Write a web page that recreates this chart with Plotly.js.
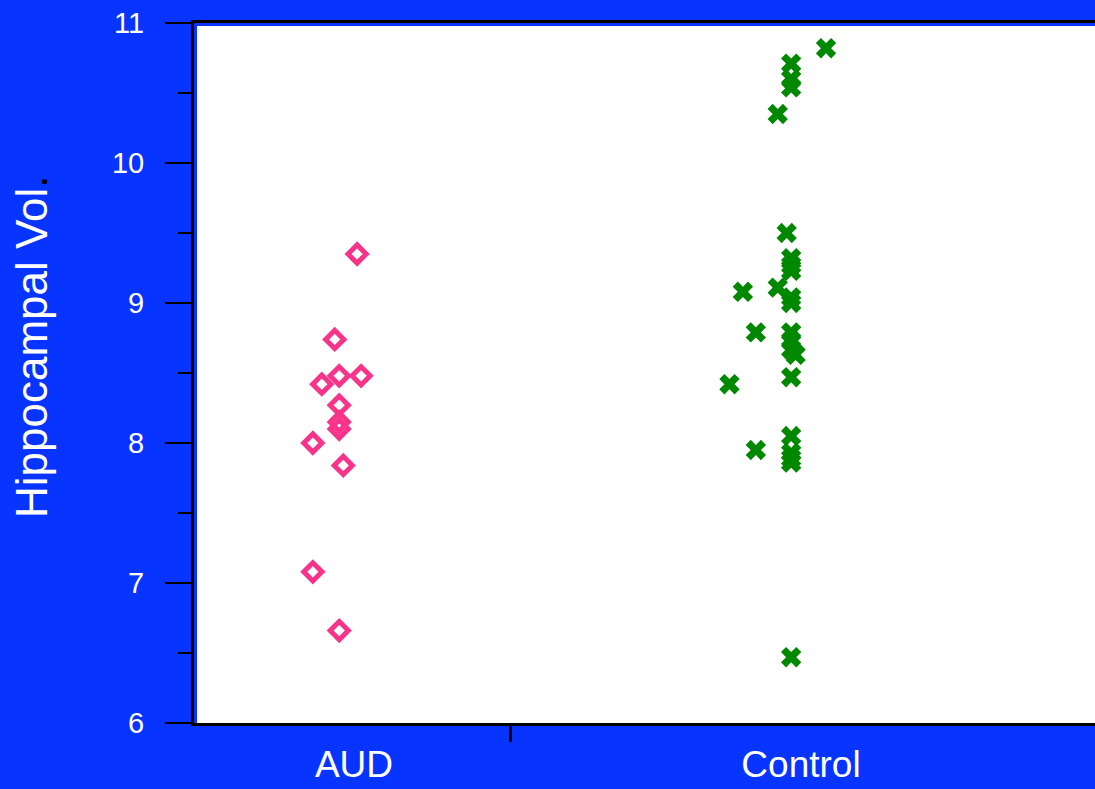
<!DOCTYPE html>
<html>
<head>
<meta charset="utf-8">
<script src="https://cdn.plot.ly/plotly-3.0.1.min.js"></script>
<style>
  html, body { margin: 0; padding: 0; overflow: hidden; background: #0834ff; }
  #chart { width: 1095px; height: 789px; }
</style>
</head>
<body>
<div id="chart"></div>
<script>
// Group labels and their positions on the x axis
const categories = ['AUD', 'Control'];
const categoryPos = [1, 2];

// AUD group: jittered x position and hippocampal volume
const audX   = [1.007, 0.957, 0.967, 1.016, 0.928, 0.967, 0.967, 0.967, 0.908, 0.976, 0.908, 0.967];
const audVol = [9.35, 8.74, 8.48, 8.48, 8.42, 8.27, 8.15, 8.10, 8.00, 7.84, 7.08, 6.66];

// Control group: jittered x position and hippocampal volume
const controlX = [2.056, 1.978, 1.978, 1.978, 1.948, 1.968, 1.978, 1.978, 1.978, 1.870,
                  1.948, 1.978, 1.978, 1.899, 1.978, 1.978, 1.978, 1.988, 1.978, 1.840,
                  1.978, 1.899, 1.978, 1.978, 1.978, 1.978];
const controlVol = [10.82, 10.71, 10.60, 10.54, 10.35, 9.50, 9.32, 9.27, 9.23, 9.08,
                    9.11, 9.04, 9.00, 8.79, 8.79, 8.73, 8.67, 8.63, 8.47, 8.42,
                    8.05, 7.95, 7.93, 7.89, 7.86, 6.47];

// Y axis ticks
const yTicks = [6, 7, 8, 9, 10, 11];

const BLUE = '#0834ff';
const FONT = 'Liberation Sans, Arial, sans-serif';

const traces = [
  {
    x: audX, y: audVol, type: 'scatter', mode: 'markers', name: categories[0],
    marker: { symbol: 'diamond-open', size: 14, color: '#f7348a',
              line: { width: 5, color: '#f7348a' } },
    hoverinfo: 'skip'
  },
  {
    x: controlX, y: controlVol, type: 'scatter', mode: 'markers', name: categories[1],
    marker: { symbol: 'x', size: 18, color: '#008800', line: { width: 0 } },
    hoverinfo: 'skip'
  }
];

const layout = {
  width: 1095, height: 789,
  margin: { l: 194, r: 0, t: 23, b: 66 },
  paper_bgcolor: BLUE,
  plot_bgcolor: BLUE,
  showlegend: false,
  font: { family: FONT, color: 'white' },
  xaxis: {
    range: [0.6421, 2.6577],
    tickmode: 'array', tickvals: categoryPos, ticktext: categories,
    ticks: '', ticklabelstandoff: 7,
    tickfont: { size: 37, color: 'white', family: FONT },
    minor: { tickmode: 'array', tickvals: [1.3512], ticks: 'outside',
             ticklen: 16, tickwidth: 3, tickcolor: 'black', showgrid: false },
    showline: true, linecolor: 'black', linewidth: 3, mirror: true,
    showgrid: false, zeroline: false, fixedrange: true
  },
  yaxis: {
    range: [6, 11],
    tickmode: 'array', tickvals: yTicks,
    ticks: 'outside', ticklen: 26, tickwidth: 2.8, tickcolor: 'black',
    ticklabelstandoff: 15,
    tickfont: { size: 29, color: 'white', family: FONT },
    minor: { dtick: 0.5, ticks: 'outside', ticklen: 13, tickwidth: 2.8,
             tickcolor: 'black', showgrid: false },
    showline: true, linecolor: 'black', linewidth: 3, mirror: false,
    showgrid: false, zeroline: false, fixedrange: true
  },
  shapes: [
    // white panel, inset slightly from the left and top frame lines
    { type: 'rect', xref: 'paper', yref: 'paper', layer: 'below',
      x0: 3 / 901, x1: 1.05, y0: 0, y1: 1 - 3 / 700,
      fillcolor: 'white', line: { width: 0 } }
  ],
  annotations: [
    { xref: 'paper', yref: 'paper', x: -0.181, y: 0.537,
      xanchor: 'center', yanchor: 'middle', textangle: -90, showarrow: false,
      text: 'Hippocampal Vol<span style="color:black">.</span>',
      font: { size: 44, color: 'white', family: FONT } }
  ]
};

Plotly.newPlot('chart', traces, layout, { displayModeBar: false, staticPlot: true });
</script>
</body>
</html>
